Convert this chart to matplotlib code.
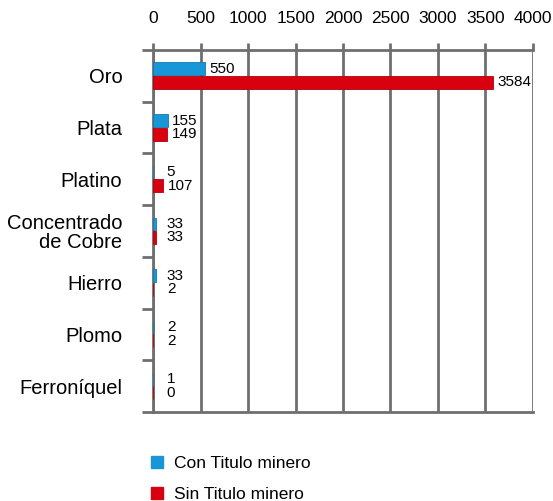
import matplotlib.pyplot as plt
import numpy as np

plt.rcParams['font.family'] = ['Liberation Sans', 'DejaVu Sans']

categorias = ["Oro", "Plata", "Platino", "Concentrado\nde Cobre", "Hierro", "Plomo", "Ferroníquel"]
con_titulo = [550, 155, 5, 33, 33, 2, 1]
sin_titulo = [3584, 149, 107, 33, 2, 2, 0]
ticks_x = [0, 500, 1000, 1500, 2000, 2500, 3000, 3500, 4000]

azul = "#1996d8"
rojo = "#d9000f"
gris = "#6f6f6f"

fig = plt.figure(figsize=(5.53, 5.01), dpi=100)
ax = fig.add_axes([0.2767, 0.1776, 0.6871, 0.7226])

y = np.arange(len(categorias))
h = 0.25
ax.barh(y - 0.135, con_titulo, height=h, color=azul, edgecolor="#1479b0", linewidth=0.6, zorder=3)
ax.barh(y + 0.125, sin_titulo, height=h, color=rojo, edgecolor="#b3000c", linewidth=0.6, zorder=3)

for i in range(len(categorias)):
    ax.text(max(con_titulo[i], 100) + 45, i - 0.135, str(con_titulo[i]),
            va='center', ha='left', fontsize=11, color='black')
    ax.text(max(sin_titulo[i], 100) + 45, i + 0.125, str(sin_titulo[i]),
            va='center', ha='left', fontsize=11, color='black')

ax.set_xlim(0, 4000)
ax.set_ylim(len(categorias) - 0.5, -0.5)
ax.set_xticks(ticks_x)
ax.set_xticklabels([str(t) for t in ticks_x], fontsize=12.5, color='black')
ax.xaxis.tick_top()
ax.tick_params(axis='x', length=5, width=2, color=gris, pad=12)
ax.set_yticks(y)
ax.set_yticklabels(categorias, fontsize=14.5, color='black', linespacing=1.0)
ax.set_yticks(np.arange(len(categorias) + 1) - 0.5, minor=True)
ax.tick_params(axis='y', which='major', length=0, pad=22)
ax.tick_params(axis='y', which='minor', length=8, width=2, color=gris)
for lab in ax.get_yticklabels():
    lab.set_multialignment('right')

ax.grid(axis='x', color=gris, linewidth=2, zorder=1)
for s in ['top', 'bottom', 'left']:
    ax.spines[s].set_color(gris)
    ax.spines[s].set_linewidth(2)
ax.spines['right'].set_visible(False)

handles = [
    plt.Line2D([], [], marker='s', linestyle='', color=azul, markersize=8),
    plt.Line2D([], [], marker='s', linestyle='', color=rojo, markersize=8),
]
fig.legend(handles, ["Con Titulo minero", "Sin Titulo minero"], loc='upper left',
           bbox_to_anchor=(0.258, 0.104), frameon=False, fontsize=12.5,
           handlelength=0.8, handletextpad=0.6, labelspacing=0.9, borderaxespad=0)

fig.savefig("out.png", dpi=100)
